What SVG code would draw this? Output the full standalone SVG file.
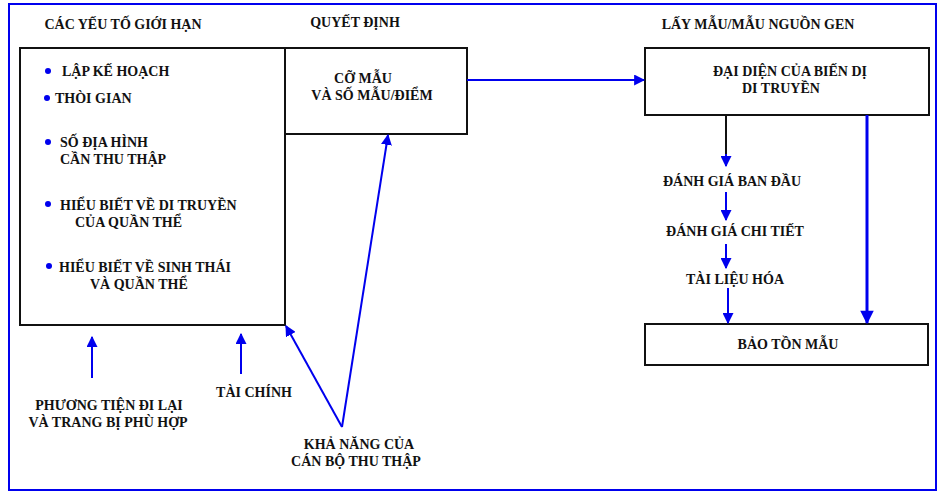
<svg xmlns="http://www.w3.org/2000/svg" width="943" height="493" viewBox="0 0 943 493">
<style>
text{font-family:"Liberation Serif","Times New Roman",serif;font-weight:bold;font-size:14px;fill:#111}
.box{fill:#fff;stroke:#111;stroke-width:2}
.c{text-anchor:middle}
.bl{stroke:#0000ee;stroke-width:2;fill:none}
.thick{stroke:#0000ee;stroke-width:3;fill:none}
.dot{fill:#0000ee}
</style>
<defs>
<marker id="ah" viewBox="0 0 10 10" refX="9" refY="5" markerWidth="5.5" markerHeight="5.5" orient="auto" markerUnits="strokeWidth">
<path d="M0,0 L10,5 L0,10 z" fill="#0000ee"/>
</marker>
<marker id="ahb" viewBox="0 0 10 10" refX="9" refY="5" markerWidth="5" markerHeight="4.5" orient="auto" markerUnits="strokeWidth">
<path d="M0,0 L10,5 L0,10 z" fill="#0000ee"/>
</marker>
</defs>
<rect x="0" y="0" width="943" height="493" fill="#fff"/>
<rect x="9" y="4" width="927" height="486" fill="none" stroke="#0000ee" stroke-width="2"/>

<text x="123" y="29" class="c">CÁC YẾU TỐ GIỚI HẠN</text>
<text x="355" y="27" class="c">QUYẾT ĐỊNH</text>
<text x="758" y="29" class="c">LẤY MẪU/MẪU NGUỒN GEN</text>

<g id="limits">
<rect class="box" x="20" y="48" width="265" height="277"/>
<circle class="dot" cx="48" cy="71" r="3"/>
<text x="62" y="76">LẬP KẾ HOẠCH</text>
<circle class="dot" cx="47" cy="98" r="3"/>
<text x="55" y="103">THÒI GIAN</text>
<circle class="dot" cx="48" cy="142" r="3"/>
<text x="60" y="147">SỐ ĐỊA HÌNH</text>
<text x="60" y="164">CẦN THU THẬP</text>
<circle class="dot" cx="48" cy="204" r="3"/>
<text x="60" y="210">HIỂU BIẾT VỀ DI TRUYỀN</text>
<text x="75" y="227">CỦA QUẦN THỂ</text>
<circle class="dot" cx="49" cy="266" r="3"/>
<text x="59" y="272">HIỂU BIẾT VỀ SINH THÁI</text>
<text x="90" y="289">VÀ QUẦN THỂ</text>
</g>

<g id="decision">
<rect class="box" x="285" y="48" width="182" height="86"/>
<text x="363" y="83" class="c">CỠ MẪU</text>
<text x="372" y="100" class="c">VÀ SỐ MẪU/ĐIỂM</text>
</g>

<g id="representative">
<rect class="box" x="645" y="48" width="284" height="67"/>
<text x="713" y="76">ĐẠI DIỆN CỦA BIẾN DỊ</text>
<text x="742" y="93">DI TRUYỀN</text>
</g>

<g id="initial"><text x="732" y="186" class="c">ĐÁNH GIÁ BAN ĐẦU</text></g>
<g id="detail"><text x="735" y="236" class="c">ĐÁNH GIÁ CHI TIẾT</text></g>
<g id="doc"><text x="735" y="284" class="c">TÀI LIỆU HÓA</text></g>

<g id="conserve">
<rect class="box" x="645" y="324" width="283" height="41"/>
<text x="788" y="349" class="c">BẢO TỒN MẪU</text>
</g>

<g id="transport">
<text x="109" y="410" class="c">PHƯƠNG TIỆN ĐI LẠI</text>
<text x="108" y="427" class="c">VÀ TRANG BỊ PHÙ HỢP</text>
</g>
<g id="finance"><text x="254" y="397" class="c">TÀI CHÍNH</text></g>
<g id="staff">
<text x="359" y="449" class="c">KHẢ NĂNG CỦA</text>
<text x="356" y="466" class="c">CÁN BỘ THU THẬP</text>
</g>

<g id="connectors">
<line class="bl" x1="467" y1="80" x2="644" y2="80" marker-end="url(#ah)"/>
<line x1="726" y1="115" x2="726" y2="155" stroke="#111" stroke-width="2"/>
<line class="bl" x1="726" y1="154" x2="726" y2="166" marker-end="url(#ah)"/>
<line class="bl" x1="726" y1="192" x2="726" y2="220" marker-end="url(#ah)"/>
<line class="bl" x1="726" y1="244" x2="726" y2="268" marker-end="url(#ah)"/>
<line class="bl" x1="728" y1="288" x2="728" y2="323" marker-end="url(#ah)"/>
<line class="thick" x1="867" y1="115" x2="867" y2="323" marker-end="url(#ahb)"/>
<line class="bl" x1="92" y1="378" x2="92" y2="337" marker-end="url(#ah)"/>
<line class="bl" x1="241" y1="374" x2="241" y2="334" marker-end="url(#ah)"/>
<line class="bl" x1="342" y1="427" x2="286" y2="326" marker-end="url(#ah)"/>
<line class="bl" x1="342" y1="427" x2="388" y2="135" marker-end="url(#ah)"/>
</g>
</svg>
